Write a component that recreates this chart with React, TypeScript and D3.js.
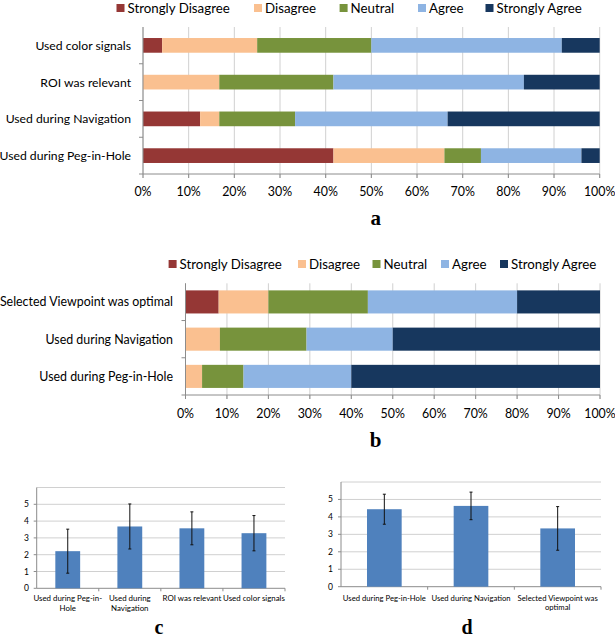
import React from "react";
import * as d3 from "d3";

// ---------- data ----------
const levels = ["Strongly Disagree", "Disagree", "Neutral", "Agree", "Strongly Agree"];
const levelColors = ["#953735", "#FAC090", "#77933C", "#8EB4E3", "#17375E"];
const percentTicks = [0, 10, 20, 30, 40, 50, 60, 70, 80, 90, 100];

// chart a (percent)
const aCategories = ["Used color signals", "ROI was relevant", "Used during Navigation", "Used during Peg-in-Hole"];
const aStronglyDisagree = [4.2, 0, 12.5, 41.7];
const aDisagree = [20.8, 16.7, 4.2, 24.3];
const aNeutral = [25.0, 25.0, 16.6, 8.0];
const aAgree = [41.7, 41.7, 33.4, 22.0];
const aStronglyAgree = [8.3, 16.6, 33.3, 4.0];

// chart b (percent)
const bCategories = ["Selected Viewpoint was optimal", "Used during Navigation", "Used during Peg-in-Hole"];
const bStronglyDisagree = [8, 0, 0];
const bDisagree = [12, 8.3, 4];
const bNeutral = [24, 20.9, 10];
const bAgree = [36, 20.8, 26];
const bStronglyAgree = [20, 50, 60];

// chart c (mean score with error)
const cCategories = ["Used during Peg-in-Hole", "Used during Navigation", "ROI was relevant", "Used color signals"];
const cLabelLines = [["Used during Peg-in-", "Hole"], ["Used during", "Navigation"], ["ROI was relevant"], ["Used color signals"]];
const cMeans = [2.21, 3.68, 3.57, 3.28];
const cErrors = [1.31, 1.34, 0.98, 1.05];

// chart d
const dCategories = ["Used during Peg-in-Hole", "Used during Navigation", "Selected Viewpoint was optimal"];
const dLabelLines = [["Used during Peg-in-Hole"], ["Used during Navigation"], ["Selected Viewpoint was", "optimal"]];
const dMeans = [4.44, 4.63, 3.34];
const dErrors = [0.86, 0.79, 1.25];

const scoreTicks = [0, 1, 2, 3, 4, 5];
const scoreMax = 6;

const FONT = "Lato, 'Open Sans', sans-serif";
const GRID = "#d0d0d0";
const AXIS = "#8c8c8c";

type StackProps = {
  cats: string[];
  series: number[][];
  x0: number; x1: number; top: number; bottom: number;
  padInner: number;
  labelRight: number;
  legendY: number;
  legendXs: number[];
  tickLabelY: number;
  labelSize: number;
  legendSize: number;
  tickSize: number;
};

function StackedChart(p: StackProps) {
  const x = d3.scaleLinear().domain([0, 100]).range([p.x0, p.x1]);
  const y = d3.scaleBand<string>().domain(p.cats).range([p.top, p.bottom])
    .paddingInner(p.padInner).paddingOuter(p.padInner / 2);
  const rows = p.cats.map((c, i) => {
    const r: any = { cat: c };
    levels.forEach((l, j) => (r[l] = p.series[j][i]));
    return r;
  });
  const stacked = d3.stack<any>().keys(levels)(rows);
  const step = y.step();
  return (
    <g fontFamily={FONT}>
      {levels.map((l, j) => (
        <g key={l}>
          <rect x={p.legendXs[j]} y={p.legendY - 4} width={8} height={8} fill={levelColors[j]} />
          <text x={p.legendXs[j] + 11} y={p.legendY} dominantBaseline="central" fontSize={p.legendSize} fill="#000">{l}</text>
        </g>
      ))}
      {percentTicks.map((t) => (
        <line key={t} x1={x(t)} x2={x(t)} y1={p.top} y2={p.bottom + 4} stroke={GRID} strokeWidth={1} />
      ))}
      {stacked.map((s, j) => (
        <g key={s.key} fill={levelColors[j]}>
          {s.map((d, i) => (
            <rect key={i} x={x(d[0])} width={Math.max(0, x(d[1]) - x(d[0]))} y={y(p.cats[i])!} height={y.bandwidth()} />
          ))}
        </g>
      ))}
      <line x1={p.x0} x2={p.x1} y1={p.bottom} y2={p.bottom} stroke={AXIS} />
      <line x1={p.x0} x2={p.x0} y1={p.top} y2={p.bottom} stroke={AXIS} />
      {percentTicks.map((t) => (
        <line key={"t" + t} x1={x(t)} x2={x(t)} y1={p.bottom} y2={p.bottom + 4} stroke={AXIS} />
      ))}
      {p.cats.map((c, i) => (
        <line key={"ct" + i} x1={p.x0 - 4} x2={p.x0} y1={p.top + step * (i + 1)} y2={p.top + step * (i + 1)} stroke={AXIS} />
      ))}
      {p.cats.map((c) => (
        <text key={c} x={p.labelRight} y={y(c)! + y.bandwidth() / 2} textAnchor="end" dominantBaseline="central" fontSize={p.labelSize} fill="#000">{c}</text>
      ))}
      {percentTicks.map((t) => (
        <text key={"l" + t} x={x(t)} y={p.tickLabelY} textAnchor="middle" dominantBaseline="central" fontSize={p.tickSize} fill="#000">{t + "%"}</text>
      ))}
    </g>
  );
}

type BarProps = {
  cats: string[];
  lines: string[][];
  means: number[];
  errors: number[];
  x0: number; x1: number; top: number; bottom: number;
  yLabelRight: number;
  catLabelY: number;
  fontSize: number;
  catSize: number;
};

function ErrorBarChart(p: BarProps) {
  const x = d3.scaleBand<string>().domain(p.cats).range([p.x0, p.x1]).paddingInner(0.6).paddingOuter(0.3);
  const y = d3.scaleLinear().domain([0, scoreMax]).range([p.bottom, p.top]);
  const step = x.step();
  const gridVals = d3.range(1, scoreMax + 1);
  return (
    <g fontFamily={FONT}>
      {gridVals.map((v) => (
        <line key={v} x1={p.x0} x2={p.x1} y1={y(v)} y2={y(v)} stroke={GRID} />
      ))}
      <line x1={p.x0} x2={p.x0} y1={p.top} y2={p.bottom} stroke={AXIS} />
      <line x1={p.x0} x2={p.x1} y1={p.bottom} y2={p.bottom} stroke={AXIS} />
      {scoreTicks.map((v) => (
        <g key={"yt" + v}>
          <line x1={p.x0 - 3} x2={p.x0} y1={y(v)} y2={y(v)} stroke={AXIS} />
          <text x={p.yLabelRight} y={y(v)} textAnchor="end" dominantBaseline="central" fontSize={p.fontSize} fill="#000">{v}</text>
        </g>
      ))}
      {p.cats.map((c, i) => (
        <line key={"xt" + i} x1={p.x0 + step * (i + 1)} x2={p.x0 + step * (i + 1)} y1={p.bottom} y2={p.bottom + 3} stroke={AXIS} />
      ))}
      {p.cats.map((c, i) => {
        const cx = x(c)! + x.bandwidth() / 2;
        return (
          <g key={c}>
            <rect x={x(c)!} width={x.bandwidth()} y={y(p.means[i])} height={p.bottom - y(p.means[i])} fill="#4F81BD" />
            <line x1={cx} x2={cx} y1={y(p.means[i] + p.errors[i])} y2={y(p.means[i] - p.errors[i])} stroke="#111" strokeWidth={1} />
            <line x1={cx - 1.5} x2={cx + 1.5} y1={y(p.means[i] + p.errors[i])} y2={y(p.means[i] + p.errors[i])} stroke="#111" />
            <line x1={cx - 1.5} x2={cx + 1.5} y1={y(p.means[i] - p.errors[i])} y2={y(p.means[i] - p.errors[i])} stroke="#111" />
            {p.lines[i].map((ln, k) => (
              <text key={k} x={cx} y={p.catLabelY + k * 9.3} textAnchor="middle" dominantBaseline="central" fontSize={p.catSize} fill="#000">{ln}</text>
            ))}
          </g>
        );
      })}
    </g>
  );
}

const captionStyle = { fontFamily: "'Liberation Serif', 'Times New Roman', serif", fontWeight: 700 } as const;

export default function App() {
  return (
    <svg width={615} height={640} style={{ position: "absolute", left: 0, top: 0, background: "#fff" }}>
      <rect x={0} y={0} width={615} height={640} fill="#fff" />
      <StackedChart
        cats={aCategories}
        series={[aStronglyDisagree, aDisagree, aNeutral, aAgree, aStronglyAgree]}
        x0={143} x1={599.7} top={27} bottom={174} padInner={0.6}
        labelRight={131} legendY={8} legendXs={[116.5, 254, 339.6, 418, 485.5]}
        tickLabelY={191.5} labelSize={12.2} legendSize={13.3} tickSize={12.4}
      />
      <text x={375.7} y={225} textAnchor="middle" fontSize={21} style={captionStyle}>a</text>

      <StackedChart
        cats={bCategories}
        series={[bStronglyDisagree, bDisagree, bNeutral, bAgree, bStronglyAgree]}
        x0={185.5} x1={600} top={283.3} bottom={395} padInner={0.38}
        labelRight={173} legendY={264} legendXs={[168.6, 298, 372.5, 441, 500]}
        tickLabelY={413} labelSize={12.4} legendSize={13.3} tickSize={12.4}
      />
      <text x={375.5} y={447} textAnchor="middle" fontSize={21} style={captionStyle}>b</text>

      <ErrorBarChart
        cats={cCategories} lines={cLabelLines} means={cMeans} errors={cErrors}
        x0={36.7} x1={285} top={487.5} bottom={588.3}
        yLabelRight={29} catLabelY={598.3} fontSize={8.5} catSize={7.9}
      />
      <text x={159} y={634} textAnchor="middle" fontSize={20} style={captionStyle}>c</text>

      <ErrorBarChart
        cats={dCategories} lines={dLabelLines} means={dMeans} errors={dErrors}
        x0={341} x1={601} top={482} bottom={586.7}
        yLabelRight={333} catLabelY={597.7} fontSize={8.5} catSize={7.7}
      />
      <text x={467} y={634} textAnchor="middle" fontSize={20} style={captionStyle}>d</text>
    </svg>
  );
}
